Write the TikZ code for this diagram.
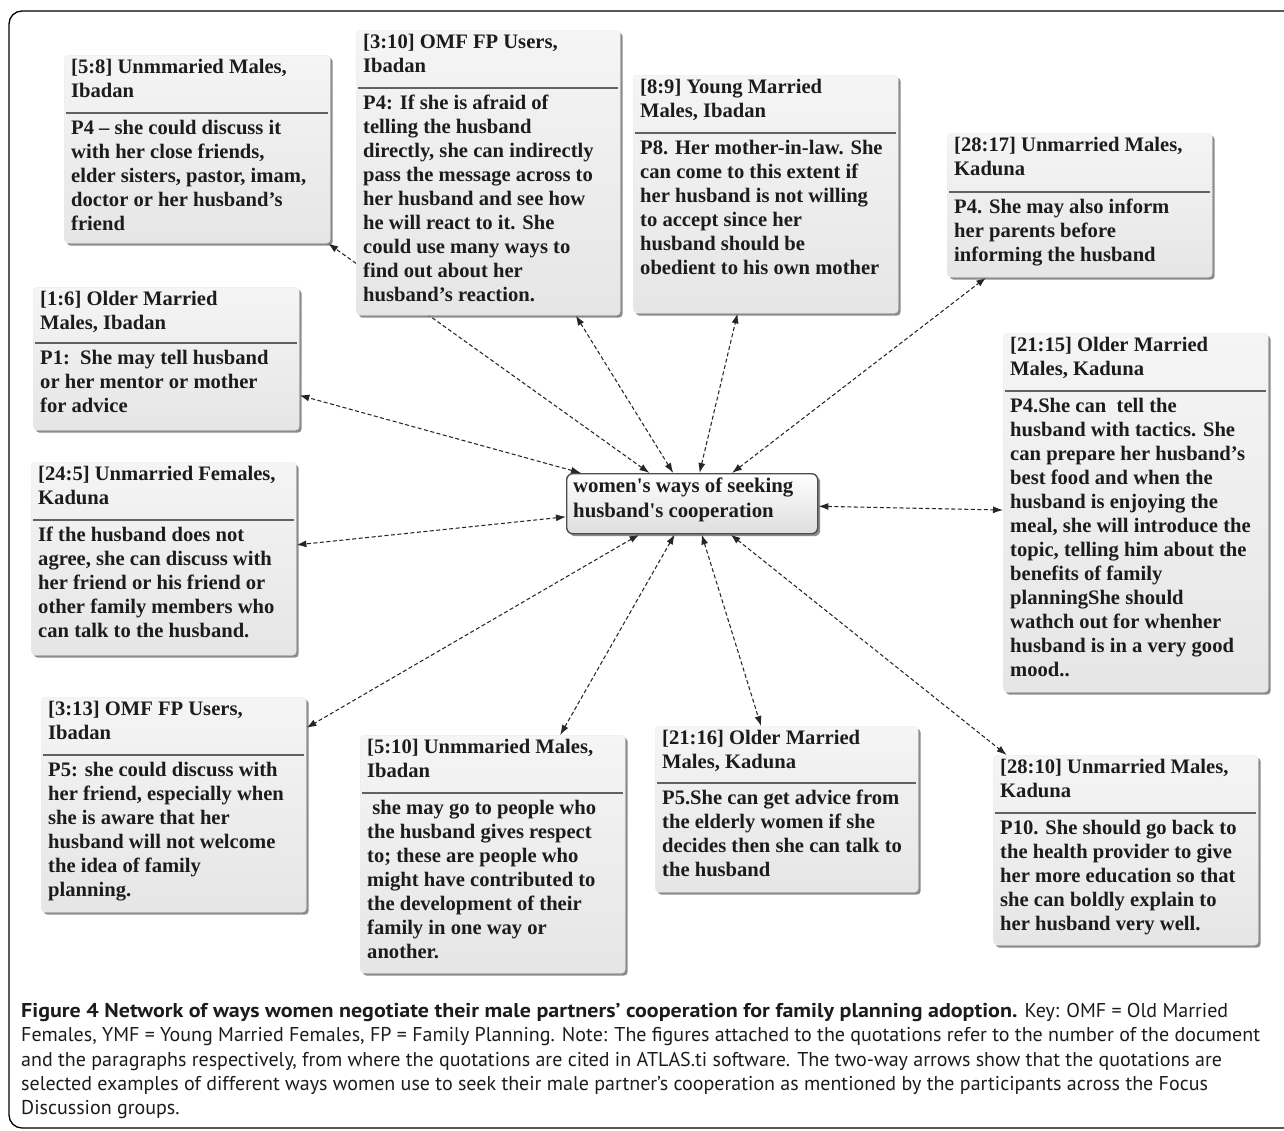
\documentclass[tikz,border=0pt]{standalone}
\usepackage{fontspec}
\setmainfont{Liberation Serif}
\newfontfamily\capfont{PT Sans}[BoldFeatures={FakeStretch=1.1}]
\usetikzlibrary{arrows.meta,shadows}
\pgfdeclarelayer{background}
\pgfsetlayers{background,main}
\definecolor{txt}{HTML}{1C1C1C}
\tikzset{
  qframe/.style={rounded corners=4pt, top color=white!96!black, bottom color=black!10,
    draw=black!8, line width=0.4pt, inner sep=0pt,
    drop shadow={shadow xshift=2.5pt, shadow yshift=-2.5pt, fill=black!60, opacity=.75}},
  cframe/.style={rounded corners=6pt, top color=white, bottom color=black!13,
    draw=black!70, line width=1.4pt, inner sep=0pt,
    drop shadow={shadow xshift=2.5pt, shadow yshift=-2.5pt, fill=black!60, opacity=.75}},
  qtext/.style={font=\bfseries\fontsize{20.6}{24}\selectfont, text=txt, align=left,
    inner sep=0pt, execute at begin node=\strut},
  ctext/.style={font=\bfseries\fontsize{20.8}{25}\selectfont, text=txt, align=left,
    inner sep=0pt, execute at begin node=\strut},
  captext/.style={font=\capfont\fontsize{20}{24.3}\selectfont, text=txt, align=left,
    inner sep=0pt, execute at begin node=\strut},
  sepline/.style={draw=black!62, line width=1.6pt},
  link/.style={draw=black!85, line width=1.05pt, dash pattern=on 4pt off 2.5pt,
    {Latex[length=10pt,width=7pt]}-{Latex[length=10pt,width=7pt]}},
}
% name, x1, y1, x2, y2, separator y, header, body
\newcommand\qbox[8]{%
  \node[qframe, anchor=north west, minimum width={(#4-#2)*1pt},
        minimum height={(#5-#3)*1pt}] (#1) at (#2,#3) {};
  \draw[sepline] (#2+2,#6) -- (#4-2,#6);
  \node[qtext, anchor=north west] (#1h) at (#2+7,#3+4) {#7};
  \node[qtext, anchor=north west] (#1b) at (#2+7,#6+7) {#8};
}
\begin{document}
\begin{tikzpicture}[x=1pt,y=-1pt]
\useasboundingbox (0,0) rectangle (1284,1130);
\begin{pgfonlayer}{background}
  \fill[white] (0,0) rectangle (1284,1130);
\end{pgfonlayer}
\draw[line width=1.3pt, rounded corners=13pt] (9,11) rectangle (1310,1128);

\qbox{b58}{64}{55}{330}{243}{113}{[5:8] Unmmaried Males,\\Ibadan}
  {P4 – she could discuss it\\with her close friends,\\elder sisters, pastor, imam,\\doctor or her husband’s\\friend}
\qbox{b310}{356}{30}{620}{315}{88}{[3:10] OMF FP Users,\\Ibadan}
  {P4: If she is afraid of\\telling the husband\\directly, she can indirectly\\pass the message across to\\her husband and see how\\he will react to it. She\\could use many ways to\\find out about her\\husband’s reaction.}
\qbox{b89}{633}{75}{898}{313}{133}{[8:9] Young Married\\Males, Ibadan}
  {P8. Her mother-in-law. She\\can come to this extent if\\her husband is not willing\\to accept since her\\husband should be\\obedient to his own mother}
\qbox{b2817}{947}{133}{1212}{277}{192}{[28:17] Unmarried Males,\\Kaduna}
  {P4. She may also inform\\her parents before\\informing the husband}
\qbox{b16}{33}{287}{299}{430}{343}{[1:6] Older Married\\Males, Ibadan}
  {P1:\ \ She may tell husband\\or her mentor or mother\\for advice}
\qbox{b2115}{1003}{333}{1268}{692}{391}{[21:15] Older Married\\Males, Kaduna}
  {P4.She can\ \ tell the\\husband with tactics. She\\can prepare her husband’s\\best food and when the\\husband is enjoying the\\meal, she will introduce the\\topic, telling him about the\\benefits of family\\planningShe should\\wathch out for whenher\\husband is in a very good\\mood..}
\qbox{b245}{31}{462}{296}{655}{520}{[24:5] Unmarried Females,\\Kaduna}
  {If the husband does not\\agree, she can discuss with\\her friend or his friend or\\other family members who\\can talk to the husband.}
\qbox{b313}{41}{697}{306}{912}{755}{[3:13] OMF FP Users,\\Ibadan}
  {P5: she could discuss with\\her friend, especially when\\she is aware that her\\husband will not welcome\\the idea of family\\planning.}
\qbox{b510}{360}{735}{625}{973}{793}{[5:10] Unmmaried Males,\\Ibadan}
  {\ she may go to people who\\the husband gives respect\\to; these are people who\\might have contributed to\\the development of their\\family in one way or\\another.}
\qbox{b2116}{655}{726}{918}{892}{783}{[21:16] Older Married\\Males, Kaduna}
  {P5.She can get advice from\\the elderly women if she\\decides then she can talk to\\the husband}
\qbox{b2810}{993}{755}{1258}{945}{813}{[28:10] Unmarried Males,\\Kaduna}
  {P10. She should go back to\\the health provider to give\\her more education so that\\she can boldly explain to\\her husband very well.}

\node[cframe, anchor=north west, minimum width=251pt, minimum height=60pt] (ctr) at (566,473) {};
\node[ctext, anchor=north west] (ctrt) at (573,478)
  {women\textquotesingle s ways of seeking\\husband\textquotesingle s cooperation};

\begin{pgfonlayer}{background}
  \foreach \n in {b58,b310,b89,b2817,b16,b2115,b245,b313,b510,b2116,b2810}
    \draw[link] (ctr) -- (\n);
\end{pgfonlayer}

\node[captext, anchor=north west] (cap) at (21,1003)
  {{\bfseries Figure 4 Network of ways women negotiate their male partners’ cooperation for family planning adoption.} Key: OMF = Old Married\\
   Females, YMF = Young Married Females, FP = Family Planning. Note: The figures attached to the quotations refer to the number of the document\\
   and the paragraphs respectively, from where the quotations are cited in ATLAS.ti software. The two-way arrows show that the quotations are\\
   selected examples of different ways women use to seek their male partner’s cooperation as mentioned by the participants across the Focus\\
   Discussion groups.};
\end{tikzpicture}
\end{document}
